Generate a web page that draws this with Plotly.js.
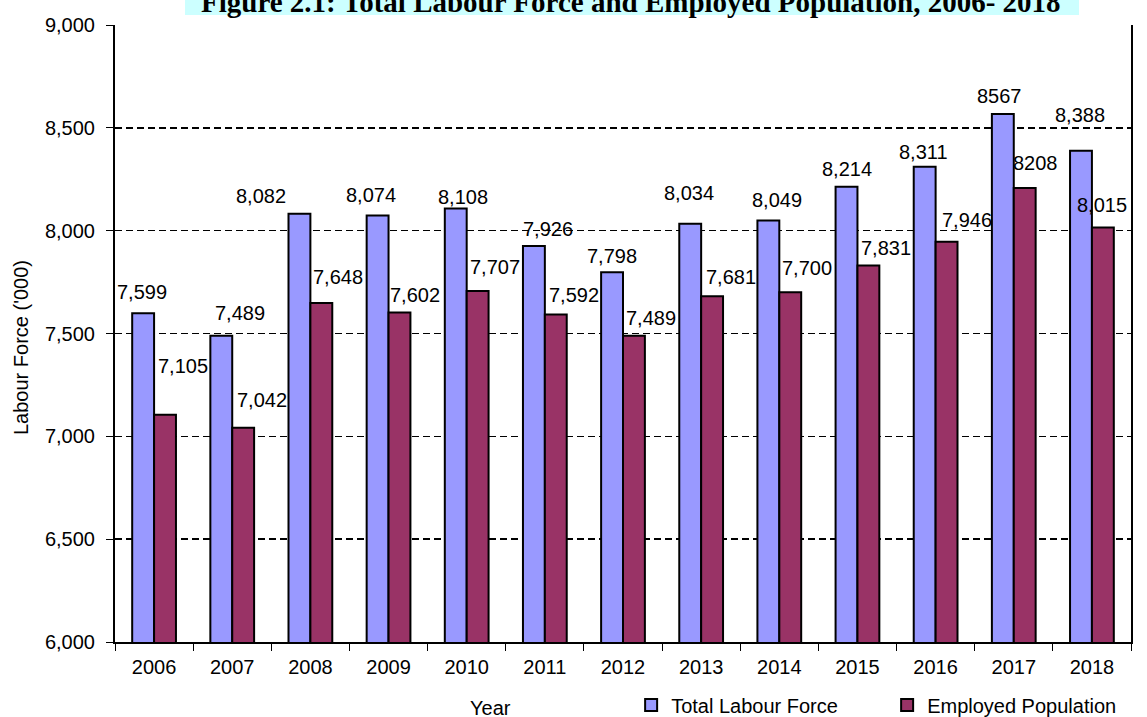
<!DOCTYPE html>
<html>
<head>
<meta charset="utf-8">
<script src="https://cdn.plot.ly/plotly-3.0.1.min.js"></script>
<style>html,body{margin:0;padding:0;background:#fff;}#chart{width:1147px;height:717px;}</style>
</head>
<body>
<div id="chart"></div>
<script>
// ---- data ----
const years = ['2006','2007','2008','2009','2010','2011','2012','2013','2014','2015','2016','2017','2018'];
const totalLabour = [7599,7489,8082,8074,8108,7926,7798,8034,8049,8214,8311,8567,8388];
const employed = [7105,7042,7648,7602,7707,7592,7489,7681,7700,7831,7946,8208,8015];
const totalLabels = ['7,599','7,489','8,082','8,074','8,108','7,926','7,798','8,034','8,049','8,214','8,311','8567','8,388'];
const employedLabels = ['7,105','7,042','7,648','7,602','7,707','7,592','7,489','7,681','7,700','7,831','7,946','8208','8,015'];
const seriesNames = ['Total Labour Force','Employed Population'];
const yTickVals = [6000,6500,7000,7500,8000,8500,9000];

// ---- label placement (pixel offsets, styling only) ----
const totalLabelDx = [-12,8,-49,-18,-4,3,-11,-12,-2,-10,-12,-14,-12];
const totalLabelDy = [21,23,18,20,11,17,16,31,21,18,15,18,36];
const empLabelDx = [29,30,28,26,28,29,28,30,28,29,31,22,10];
const empLabelDy = [49,28,26,18,24,20,18,19,24,17,22,25,23];

const FONT = '"Liberation Sans", Arial, sans-serif';
const FS = 20;

const traces = [
  {type:'bar', name:seriesNames[0], x:years, y:totalLabour,
   marker:{color:'#9999ff', line:{color:'#000', width:2}}, hoverinfo:'x+y'},
  {type:'bar', name:seriesNames[1], x:years, y:employed,
   marker:{color:'#993366', line:{color:'#000', width:2}}, hoverinfo:'x+y'}
];

const annotations = [];
years.forEach((yr,i)=>{
  // category axis: annotation x given as category serial number
  annotations.push({x:i, y:totalLabour[i], xref:'x', yref:'y', text:totalLabels[i], showarrow:false,
    xanchor:'center', yanchor:'middle', xshift:totalLabelDx[i], yshift:totalLabelDy[i],
    font:{family:FONT, size:FS, color:'#000'}});
  annotations.push({x:i, y:employed[i], xref:'x', yref:'y', text:employedLabels[i], showarrow:false,
    xanchor:'center', yanchor:'middle', xshift:empLabelDx[i], yshift:empLabelDy[i],
    font:{family:FONT, size:FS, color:'#000'}});
});
// title
annotations.push({xref:'paper', yref:'paper', x:(631-115)/1016, y:1+(25-2)/617, xanchor:'center', yanchor:'middle',
  text:'<b>Figure 2.1: Total Labour Force and Employed Population, 2006- 2018</b>', showarrow:false,
  font:{family:'"Liberation Serif", "Times New Roman", serif', size:29, color:'#000'}});
// axis titles
annotations.push({xref:'paper', yref:'paper', x:(490-115)/1016, y:(642-708)/617, xanchor:'center', yanchor:'middle',
  text:'Year', showarrow:false, font:{family:FONT, size:FS, color:'#000'}});
annotations.push({xref:'paper', yref:'paper', x:(21-115)/1016, y:(642-348)/617, xanchor:'center', yanchor:'middle',
  text:"Labour Force ('000)", textangle:-90, showarrow:false, font:{family:FONT, size:FS, color:'#000'}});

const layout = {
  width:1147, height:717,
  margin:{l:115, r:16, t:25, b:75, autoexpand:false},
  paper_bgcolor:'#fff', plot_bgcolor:'#fff',
  font:{family:FONT, size:FS, color:'#000'},
  barmode:'group', bargap:0.44, bargroupgap:0,
  showlegend:true,
  legend:{orientation:'h', x:0.508, y:-0.0705, xanchor:'left', yanchor:'top',
    font:{family:FONT, size:FS, color:'#000'}, bgcolor:'rgba(0,0,0,0)',
    entrywidthmode:'pixels', entrywidth:211, itemwidth:30, traceorder:'normal'},
  xaxis:{type:'category', showline:true, linecolor:'#000', linewidth:2, mirror:false,
    ticks:'outside', tickson:'boundaries', ticklen:7, tickcolor:'#000', tickwidth:1,
    showgrid:false, tickangle:0, tickfont:{family:FONT, size:FS, color:'#000'}, ticklabelstandoff:6, fixedrange:true},
  yaxis:{range:[6000,9000], tickvals:yTickVals, tickformat:',d', showline:true, mirror:true,
    linecolor:'#000', linewidth:2, ticks:'outside', ticklen:7, tickcolor:'#000', tickwidth:1,
    showgrid:true, gridcolor:'#000', gridwidth:1.5, griddash:'7px,4px', zeroline:false,
    tickfont:{family:FONT, size:FS, color:'#000'}, ticklabelstandoff:7, fixedrange:true},
  shapes:[{type:'rect', xref:'paper', yref:'paper', x0:(185-115)/1016, x1:(1079-115)/1016,
    y0:1+(25-15)/617, y1:1.07, fillcolor:'#ccffff', line:{width:0}, layer:'below'}],
  annotations:annotations
};

Plotly.newPlot('chart', traces, layout, {displayModeBar:false, staticPlot:true});
</script>
</body>
</html>
